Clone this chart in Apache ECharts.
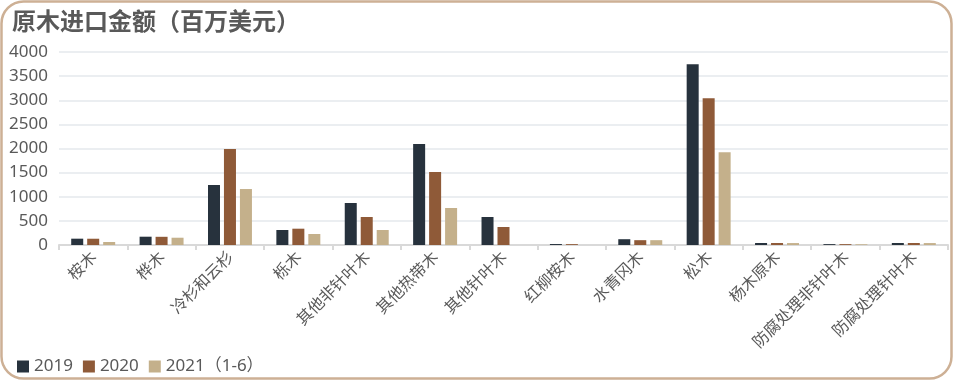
<!DOCTYPE html>
<html>
<head>
<meta charset="utf-8">
<script src="https://cdn.jsdelivr.net/npm/echarts@6/dist/echarts.min.js"></script>
<style>
html,body{margin:0;padding:0;background:#fff;}
#c{width:955px;height:381px;}
</style>
</head>
<body>
<div id="c"></div>
<script>
const titleText = '原木进口金额（百万美元）';
const categories = ['桉木','桦木','冷杉和云杉','栎木','其他非针叶木','其他热带木','其他针叶木','红柳桉木','水青冈木','松木','杨木原木','防腐处理非针叶木','防腐处理针叶木'];
const seriesNames = ['2019','2020','2021（1-6）'];
const values2019 = [131, 172, 1243, 311, 870, 2093, 580, 20, 120, 3745, 42, 18, 42];
const values2020 = [130, 170, 1990, 338, 580, 1513, 373, 18, 100, 3040, 42, 18, 42];
const values2021 = [62, 151, 1160, 228, 311, 767, 0, 0, 100, 1920, 40, 15, 40];
const yTicks = [0, 500, 1000, 1500, 2000, 2500, 3000, 3500, 4000];

const colors = ['#27323d', '#8f5a38', '#c4b08b'];
const font = '"Noto Sans CJK SC", "Microsoft YaHei", sans-serif';
const numFont = '"Noto Sans", "Noto Sans CJK SC", sans-serif';
const chart = echarts.init(document.getElementById('c'), null, {renderer: 'canvas'});
const allValues = [values2019, values2020, values2021];
chart.setOption({
  animation: false,
  backgroundColor: '#fff',
  color: colors,
  textStyle: {fontFamily: font},
  graphic: [{
    type: 'rect',
    shape: {x: 1.5, y: 1.5, width: 950, height: 377, r: 22},
    style: {fill: 'none', stroke: '#cdb095', lineWidth: 2.5},
    silent: true,
    z: 100
  }],
  title: {
    text: titleText,
    left: 7, top: 4,
    textStyle: {fontFamily: font, fontSize: 24, fontWeight: 'bold', color: '#595959'}
  },
  legend: {
    left: 12, top: 353,
    itemWidth: 12, itemHeight: 12, itemGap: 10,
    icon: 'rect',
    textStyle: {fontFamily: numFont, fontSize: 17, color: '#595959'},
    data: seriesNames
  },
  grid: {left: 59, right: 7, top: 52, bottom: 136, containLabel: false},
  xAxis: {
    type: 'category',
    data: categories,
    axisLine: {lineStyle: {color: '#d9d9d9', width: 2}},
    axisTick: {show: true, length: 5, lineStyle: {color: '#d9d9d9', width: 2}},
    axisLabel: {rotate: 45, fontSize: 16, color: '#595959', fontFamily: font, margin: 9, interval: 0}
  },
  yAxis: {
    type: 'value',
    min: yTicks[0], max: yTicks[yTicks.length - 1], interval: 500,
    axisLine: {show: false},
    axisTick: {show: false},
    axisLabel: {fontSize: 17, color: '#595959', fontFamily: numFont, margin: 11, formatter: v => String(v)},
    splitLine: {lineStyle: {color: '#e4e8ed', width: 1.5}}
  },
  series: seriesNames.map((n, i) => ({
    name: n,
    type: 'bar',
    data: allValues[i],
    barGap: '33%',
    barCategoryGap: '35.7%'
  }))
});
</script>
</body>
</html>
